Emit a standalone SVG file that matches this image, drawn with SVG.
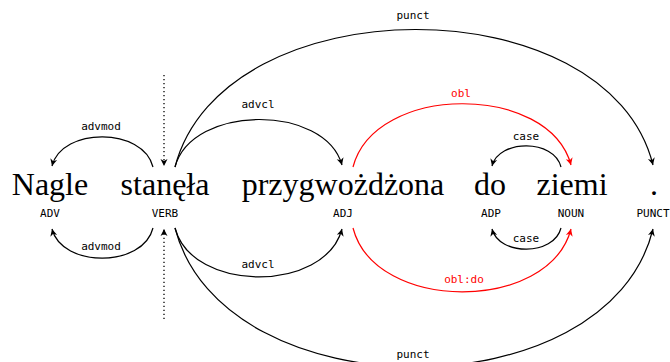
<svg xmlns="http://www.w3.org/2000/svg" width="670" height="362" viewBox="0 0 670 362">
<style>
.word{font-family:"Liberation Serif","Times New Roman",serif;font-size:32px;fill:#000;text-anchor:middle}
.pos{font-family:"DejaVu Sans Mono","Liberation Mono",monospace;font-size:11px;fill:#000;text-anchor:middle}
.lbl{font-family:"DejaVu Sans Mono","Liberation Mono",monospace;font-size:11px;fill:#000;text-anchor:middle}
.red{fill:#ff0000}
.arc{fill:none;stroke:#000;stroke-width:1.2;marker-end:url(#ah)}
.arcr{fill:none;stroke:#ff0000;stroke-width:1.2;marker-end:url(#ahr)}
.dot{fill:none;stroke:#000;stroke-width:1.3;stroke-dasharray:1.3 2.7;marker-end:url(#ah)}
</style>
<defs>
<marker id="ah" markerUnits="userSpaceOnUse" markerWidth="10" markerHeight="10" refX="7" refY="4" orient="auto">
<path d="M0,0.5 L7,4 L0,7.5 L2,4 Z" fill="#000"/>
</marker>
<marker id="ahr" markerUnits="userSpaceOnUse" markerWidth="10" markerHeight="10" refX="7" refY="4" orient="auto">
<path d="M0,0.5 L7,4 L0,7.5 L2,4 Z" fill="#ff0000"/>
</marker>
</defs>
<rect width="670" height="362" fill="#fff"/>
<g id="w1"><text class="word" x="50" y="195">Nagle</text><text class="pos" x="50" y="217">ADV</text></g>
<g id="w2"><text class="word" x="165" y="195">stanęła</text><text class="pos" x="165" y="217">VERB</text></g>
<g id="w3"><text class="word" x="343" y="195">przygwożdżona</text><text class="pos" x="343" y="217">ADJ</text></g>
<g id="w4"><text class="word" x="490" y="195">do</text><text class="pos" x="491" y="217">ADP</text></g>
<g id="w5"><text class="word" x="572" y="195">ziemi</text><text class="pos" x="571" y="217">NOUN</text></g>
<g id="w6"><text class="word" x="654" y="195">.</text><text class="pos" x="653" y="217">PUNCT</text></g>
<g id="connectors">
<path class="dot" d="M164,75 L164,166"/>
<path class="dot" d="M164,319 L164,229"/>
<path class="arc" d="M153,167 C143,127 62,127 52,166"/>
<path class="arc" d="M175,167 C192,104 325,104 342,165"/>
<path class="arc" d="M175,167 C223,-16 608,-16 653,165"/>
<path class="arcr" d="M353,167 C375,83 549,83 571,165"/>
<path class="arc" d="M561,167 C554,139 499,139 492,166"/>
<path class="arc" d="M153,228 C143,268 62,268 52,229"/>
<path class="arc" d="M175,228 C192,293 325,293 342,229"/>
<path class="arc" d="M175,228 C223,413 608,413 653,229"/>
<path class="arcr" d="M353,228 C375,313 549,313 571,229"/>
<path class="arc" d="M561,228 C554,256 499,256 492,229"/>
<text class="lbl" x="101" y="130">advmod</text>
<text class="lbl" x="258" y="108">advcl</text>
<text class="lbl" x="413" y="19">punct</text>
<text class="lbl red" x="461" y="97">obl</text>
<text class="lbl" x="526" y="140">case</text>
<text class="lbl" x="101" y="250">advmod</text>
<text class="lbl" x="258" y="268">advcl</text>
<text class="lbl" x="413" y="358">punct</text>
<text class="lbl red" x="464" y="283">obl:do</text>
<text class="lbl" x="526" y="242">case</text>
</g>
</svg>
